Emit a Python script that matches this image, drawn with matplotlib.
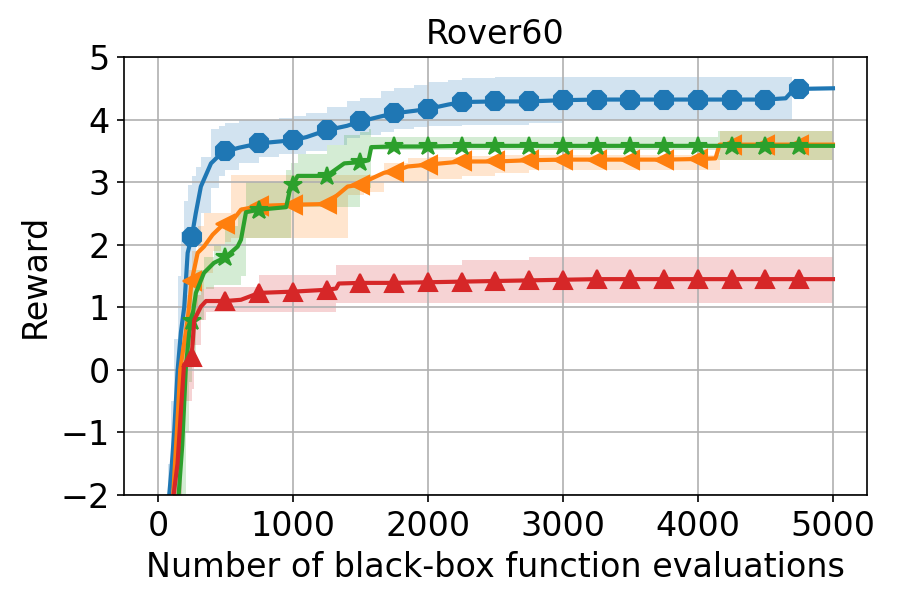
import matplotlib
matplotlib.use("Agg")
import matplotlib.pyplot as plt

# ---------------- data ----------------
title = "Rover60"
xlabel = "Number of black-box function evaluations"
ylabel = "Reward"
x_ticks = [0, 1000, 2000, 3000, 4000, 5000]
y_ticks = [-2, -1, 0, 1, 2, 3, 4, 5]

# blue (octagon)
blue_x = [0, 75, 100, 120, 146, 170, 195, 220, 250, 280, 318, 393, 450, 500, 600, 750, 900, 1000, 1100, 1250,
          1400, 1500, 1650, 1750, 1900, 2000, 2150, 2250, 2500, 2750, 3000, 3250, 3500, 3750, 4000, 4250,
          4500, 4650, 4700, 4750, 5000]
blue_mean = [-4.0, -2.2, -1.6, -1.0, 0.0, 0.6, 1.01, 1.87, 2.12, 2.5, 2.93, 3.3, 3.42, 3.49, 3.55, 3.62, 3.65, 3.67,
             3.72, 3.83, 3.9, 3.97, 4.05, 4.1, 4.14, 4.17, 4.24, 4.28, 4.29, 4.29, 4.31, 4.32, 4.32, 4.32, 4.32,
             4.32, 4.32, 4.34, 4.46, 4.49, 4.5]
blue_lo = [-5.0, -3.0, -2.5, -2.0, -1.0, -0.3, 0.3, 1.0, 1.5, 2.0, 2.5, 2.9, 3.1, 3.2, 3.3, 3.4, 3.45, 3.45, 3.5,
           3.6, 3.7, 3.75, 3.8, 3.85, 3.88, 3.9, 3.9, 3.92, 3.92, 3.95, 4.0, 4.0, 4.0, 4.0, 4.0, 4.0, 4.0, 4.0,
           4.46, 4.49, 4.5]
blue_hi = [-3.0, -1.5, -0.5, 0.5, 1.5, 2.2, 2.7, 2.95, 3.1, 3.25, 3.4, 3.85, 3.9, 3.95, 4.0, 4.0, 4.02, 4.05, 4.1,
           4.2, 4.3, 4.35, 4.45, 4.5, 4.55, 4.6, 4.64, 4.67, 4.68, 4.68, 4.68, 4.68, 4.68, 4.68, 4.68, 4.68,
           4.68, 4.68, 4.46, 4.49, 4.5]

# orange (left triangle)
orange_x = [0, 110, 140, 165, 183, 220, 250, 294, 341, 405, 467, 500, 540, 615, 750, 1000, 1250, 1405, 1500,
            1525, 1675, 1750, 1850, 2000, 2250, 2500, 2750, 3000, 3250, 3500, 3750, 4000, 4130, 4160, 4250,
            4500, 4750, 5000]
orange_mean = [-4.0, -2.1, -1.0, 0.0, 0.27, 0.8, 1.42, 1.87, 1.97, 2.16, 2.29, 2.33, 2.35, 2.56, 2.62, 2.64, 2.65,
               2.93, 2.96, 3.0, 3.15, 3.17, 3.25, 3.28, 3.33, 3.33, 3.35, 3.36, 3.36, 3.36, 3.36, 3.37, 3.38,
               3.6, 3.6, 3.6, 3.6, 3.6]
orange_lo = [-5.0, -2.5, -1.5, -0.5, 0.0, 0.4, 0.9, 1.3, 1.55, 1.9, 2.0, 2.05, 2.1, 2.1, 2.1, 2.1, 2.1, 2.8, 2.8,
             2.85, 3.0, 3.0, 3.0, 3.05, 3.1, 3.15, 3.2, 3.2, 3.2, 3.2, 3.2, 3.2, 3.2, 3.36, 3.36, 3.36, 3.36, 3.36]
orange_hi = [-3.5, -1.5, -0.3, 0.6, 1.2, 1.6, 1.9, 2.3, 2.5, 2.5, 2.5, 2.5, 3.12, 3.12, 3.12, 3.12, 3.12, 3.12,
             3.12, 3.12, 3.3, 3.3, 3.38, 3.4, 3.42, 3.44, 3.44, 3.44, 3.44, 3.44, 3.44, 3.44, 3.44, 3.81, 3.81,
             3.81, 3.81, 3.81]

# green (star)
green_x = [0, 150, 180, 207, 232, 250, 281, 341, 415, 500, 590, 615, 652, 750, 950, 985, 1000, 1035, 1250, 1380,
           1500, 1560, 1580, 1750, 2000, 2250, 2500, 2750, 3000, 3250, 3500, 3750, 4000, 4150, 4250, 4500,
           4750, 5000]
green_mean = [-4.0, -2.1, -1.2, 0.05, 0.6, 0.78, 1.23, 1.55, 1.71, 1.8, 1.97, 2.08, 2.52, 2.56, 2.6, 2.96, 2.96,
              3.1, 3.1, 3.3, 3.32, 3.35, 3.56, 3.57, 3.57, 3.58, 3.58, 3.58, 3.58, 3.58, 3.58, 3.58, 3.58, 3.58,
              3.58, 3.58, 3.58, 3.58]
green_lo = [-5.0, -2.6, -2.0, -1.0, -0.2, 0.2, 0.8, 1.3, 1.35, 1.35, 1.35, 1.5, 2.1, 2.1, 2.1, 2.6, 2.6, 2.6,
            2.6, 2.6, 2.9, 2.9, 3.52, 3.52, 3.52, 3.52, 3.52, 3.52, 3.52, 3.52, 3.52, 3.52, 3.52, 3.36, 3.36,
            3.36, 3.36, 3.36]
green_hi = [-3.5, -1.5, -0.3, 0.8, 1.3, 1.5, 1.6, 1.8, 2.0, 2.3, 2.5, 2.6, 3.0, 3.0, 3.2, 3.3, 3.3, 3.45, 3.6,
            3.75, 3.8, 3.85, 3.72, 3.72, 3.72, 3.72, 3.72, 3.72, 3.72, 3.72, 3.72, 3.72, 3.72, 3.81, 3.81, 3.81,
            3.81, 3.81]

# red (up triangle)
red_x = [0, 110, 145, 175, 193, 250, 269, 318, 356, 500, 615, 750, 1000, 1250, 1320, 1340, 1500, 1750, 2000,
         2250, 2500, 2750, 3000, 3250, 3500, 3750, 4000, 4250, 4500, 4750, 5000]
red_mean = [-4.0, -2.1, -1.5, -0.5, 0.08, 0.21, 0.8, 1.01, 1.1, 1.1, 1.12, 1.23, 1.25, 1.28, 1.3, 1.38, 1.39,
            1.39, 1.4, 1.41, 1.42, 1.43, 1.44, 1.45, 1.45, 1.45, 1.45, 1.45, 1.45, 1.45, 1.45]
red_lo = [-5.0, -2.5, -2.0, -1.0, -0.5, -0.3, 0.4, 0.8, 0.92, 0.93, 0.93, 0.93, 0.93, 0.93, 1.07, 1.07, 1.07,
          1.07, 1.07, 1.07, 1.07, 1.07, 1.07, 1.07, 1.07, 1.07, 1.07, 1.07, 1.07, 1.07, 1.07]
red_hi = [-3.5, -1.7, -1.0, 0.0, 0.6, 0.9, 1.2, 1.3, 1.33, 1.33, 1.33, 1.52, 1.52, 1.52, 1.68, 1.68, 1.68, 1.68,
          1.68, 1.76, 1.76, 1.81, 1.81, 1.81, 1.81, 1.81, 1.81, 1.81, 1.81, 1.81, 1.81]

marker_step = 250

series = [
    (blue_x, blue_mean, blue_lo, blue_hi, "#1f77b4", "8"),
    (orange_x, orange_mean, orange_lo, orange_hi, "#ff7f0e", "<"),
    (green_x, green_mean, green_lo, green_hi, "#2ca02c", "*"),
    (red_x, red_mean, red_lo, red_hi, "#d62728", "^"),
]

# ---------------- plot ----------------
plt.rcParams["font.family"] = ["DejaVu Sans"]
plt.rcParams["font.size"] = 16

fig = plt.figure(figsize=(6, 4), dpi=150)
ax = fig.add_axes([0.138, 0.175, 0.825, 0.73])

for x, m, lo, hi, c, mk in series:
    ax.fill_between(x, lo, hi, color=c, alpha=0.2, step="post", linewidth=0)
for x, m, lo, hi, c, mk in series:
    idx = [i for i, xv in enumerate(x) if xv > 0 and xv < x[-1] and xv % marker_step == 0]
    ax.plot(x, m, color=c, lw=2, marker=mk, markersize=9, markevery=idx)

ax.set_ylim(-2, 5)
ax.set_xticks(x_ticks)
ax.set_yticks(y_ticks)
ax.grid(True)
ax.set_title(title, fontsize=16)
ax.set_xlabel(xlabel, fontsize=16)
ax.set_ylabel(ylabel, fontsize=16)

fig.savefig("out.png", dpi=150)
